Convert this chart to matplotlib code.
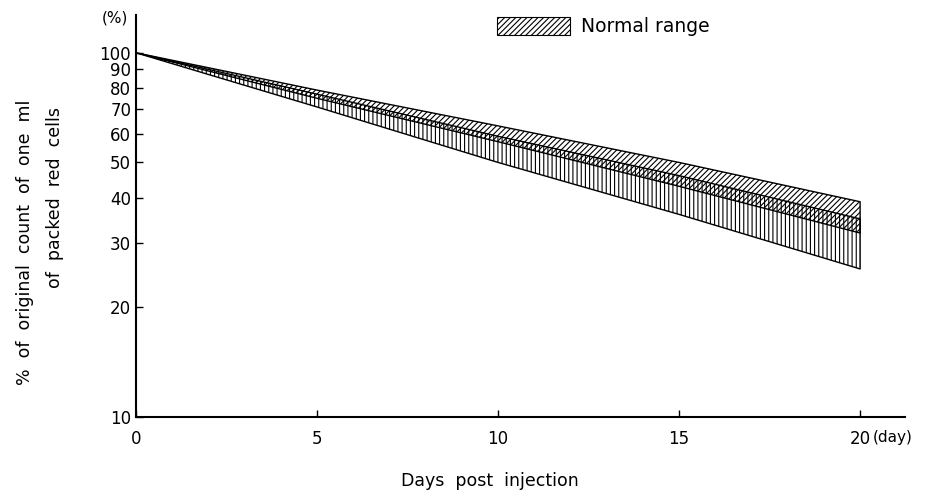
import matplotlib
matplotlib.use("Agg")
import matplotlib.pyplot as plt
from matplotlib.patches import Patch
from matplotlib.ticker import FixedLocator, NullLocator, FixedFormatter

# Data
days = [0, 5, 10, 15, 20]
normal_upper = [100, 79, 63, 50, 39]
normal_lower = [100, 75, 57, 43, 32]
patient_upper = [100, 77, 59, 46, 35]
patient_lower = [100, 71, 50, 36, 25.5]

y_ticks = [10, 20, 30, 40, 50, 60, 70, 80, 90, 100]
y_labels = ["10", "20", "30", "40", "50", "60", "70", "80", "90", "100"]
x_ticks = [0, 5, 10, 15, 20]
x_labels = ["0", "5", "10", "15", "20"]

plt.rcParams['font.family'] = ['DejaVu Sans']
plt.rcParams['hatch.linewidth'] = 0.8

fig = plt.figure(figsize=(9.4, 4.94), dpi=100)
ax = fig.add_axes([136/940, 1-417/494, (905-136)/940, (417-15)/494])

ax.set_yscale('log')
ax.set_xlim(0, 21.24)
ax.set_ylim(10, 127)

# patient band (vertical hatch)
ax.fill_between(days, patient_lower, patient_upper, facecolor='none',
                edgecolor='black', hatch='||||', linewidth=1.0)
# normal range (diagonal hatch)
ax.fill_between(days, normal_lower, normal_upper, facecolor='none',
                edgecolor='black', hatch='//////', linewidth=1.0)

ax.spines['top'].set_visible(False)
ax.spines['right'].set_visible(False)
ax.spines['left'].set_linewidth(1.5)
ax.spines['bottom'].set_linewidth(1.5)

ax.yaxis.set_major_locator(FixedLocator(y_ticks))
ax.yaxis.set_major_formatter(FixedFormatter(y_labels))
ax.yaxis.set_minor_locator(NullLocator())
ax.set_xticks(x_ticks)
ax.set_xticklabels(x_labels)
ax.tick_params(axis='both', direction='in', length=5, width=1, labelsize=12)
ax.tick_params(axis='x', pad=9)

fig.text(873/940, 1-437/494, "(day)", fontsize=11, ha='left', va='center')

fig.text(490/940, 1-481/494, "Days  post  injection", fontsize=12.5,
         ha='center', va='center')

fig.text(25/940, 1-242/494, "%  of  original  count  of  one  ml", fontsize=12.5,
         rotation=90, ha='center', va='center')
fig.text(55/940, 1-197/494, "of  packed  red  cells", fontsize=12.5,
         rotation=90, ha='center', va='center')

fig.text(115/940, 1-18/494, "(%)", fontsize=11, ha='center', va='center')

handle = Patch(facecolor='none', edgecolor='black', hatch='//////', linewidth=0.8)
ax.legend([handle], ["Normal range"], loc='upper left',
          bbox_to_anchor=(497/940, 1-17/494), bbox_transform=fig.transFigure,
          frameon=False, fontsize=13.5, handlelength=3.9, handleheight=1.1,
          handletextpad=0.6, borderpad=0, borderaxespad=0)

fig.savefig("out.png", dpi=100)
